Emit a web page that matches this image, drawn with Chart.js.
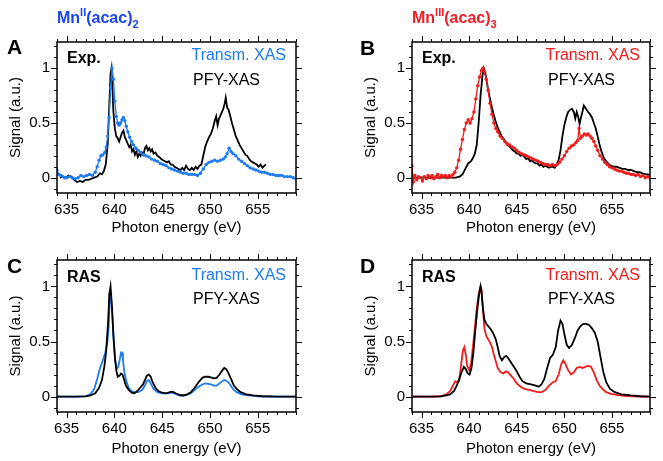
<!DOCTYPE html>
<html>
<head>
<meta charset="utf-8">
<script src="https://cdn.jsdelivr.net/npm/chart.js@4.4.1/dist/chart.umd.min.js"></script>
<style>
body{margin:0;background:#fff;width:663px;height:461px;overflow:hidden;position:relative;font-family:"Liberation Sans",Arial,sans-serif}
canvas{position:absolute}
.t{position:absolute;white-space:nowrap;line-height:1;font-size:16px;color:#000}
.b{font-weight:bold}
.ttl{font-weight:bold;font-size:16px}
.ttl span{position:relative;font-size:11px}
.up{top:-7px}
.dn{top:5px}
.let{font-weight:bold;font-size:21px}
</style>
</head>
<body>
<canvas id="panelA"></canvas>
<canvas id="panelB"></canvas>
<canvas id="panelC"></canvas>
<canvas id="panelD"></canvas>

<div class="t ttl" style="left:57px;top:10px;color:#1a44ee">Mn<span class="up">II</span>(acac)<span class="dn">2</span></div>
<div class="t ttl" style="left:412px;top:10px;color:#ee1c24">Mn<span class="up">III</span>(acac)<span class="dn">3</span></div>

<div class="t let" style="left:7px;top:36px">A</div>
<div class="t let" style="left:360px;top:37px">B</div>
<div class="t let" style="left:7px;top:255px">C</div>
<div class="t let" style="left:360px;top:255px">D</div>

<div class="t b" style="left:67px;top:50px">Exp.</div>
<div class="t" style="right:377px;top:47px;color:#1e7bf0">Transm. XAS</div>
<div class="t" style="left:193px;top:72px">PFY-XAS</div>

<div class="t b" style="left:422px;top:50px">Exp.</div>
<div class="t" style="right:23px;top:47px;color:#f01c1c">Transm. XAS</div>
<div class="t" style="left:548px;top:72px">PFY-XAS</div>

<div class="t b" style="left:67px;top:269px">RAS</div>
<div class="t" style="right:377px;top:267px;color:#1e7bf0">Transm. XAS</div>
<div class="t" style="left:193px;top:291px">PFY-XAS</div>

<div class="t b" style="left:422px;top:269px">RAS</div>
<div class="t" style="right:23px;top:267px;color:#f01c1c">Transm. XAS</div>
<div class="t" style="left:548px;top:291px">PFY-XAS</div>

<script>
const FONT = '"Liberation Sans", Arial, sans-serif'
const BLUE = '#1e7bf0'
const RED = '#f01c1c'

const xTicks = [635, 640, 645, 650, 655]
const yTicks = [0, 0.5, 1]

// A - Mn(II) experiment, transmission XAS (blue dots)
const expIITransmE = [
  634.0, 634.2, 634.4, 634.6, 634.8, 635.0, 635.3, 635.6, 635.9, 636.2,
  636.5, 636.8, 637.1, 637.4, 637.7, 638.0, 638.2, 638.4, 638.6, 638.8,
  639.0, 639.15, 639.3, 639.45, 639.6, 639.75, 639.9, 640.05, 640.2, 640.35,
  640.5, 640.65, 640.8, 640.95, 641.1, 641.25, 641.4, 641.6, 641.8, 642.0,
  642.25, 642.5, 642.75, 643.0, 643.3, 643.6, 643.9, 644.2, 644.5, 644.8,
  645.1, 645.4, 645.7, 646.0, 646.3, 646.6, 646.9, 647.2, 647.5, 647.8,
  648.1, 648.4, 648.7, 649.0, 649.3, 649.6, 649.9, 650.2, 650.5, 650.8,
  651.1, 651.4, 651.6, 651.8, 652.0, 652.2, 652.4, 652.7, 653.0, 653.3,
  653.6, 653.9, 654.2, 654.5, 654.8, 655.1, 655.4, 655.7, 656.0, 656.3,
  656.6, 656.9, 657.2, 657.5, 657.8, 658.1, 658.4, 658.7, 659.0
]
const expIITransmS = [
  0.07, 0.03, 0.02, 0.01, 0.0, 0.0, 0.01, 0.0, -0.01, 0.0,
  0.02, 0.01, 0.02, 0.03, 0.02, 0.05, 0.1, 0.16, 0.2, 0.21,
  0.23, 0.28, 0.38, 0.55, 0.82, 1.0, 0.9, 0.7, 0.56, 0.5,
  0.48, 0.5, 0.53, 0.55, 0.52, 0.47, 0.42, 0.37, 0.33, 0.3,
  0.27, 0.25, 0.23, 0.21, 0.2, 0.19, 0.17, 0.16, 0.15, 0.13,
  0.12, 0.11, 0.09, 0.08, 0.07, 0.06, 0.05, 0.04, 0.04, 0.03,
  0.03, 0.03, 0.02, 0.04, 0.08, 0.12, 0.14, 0.15, 0.16, 0.15,
  0.16, 0.17, 0.19, 0.22, 0.27, 0.24, 0.22, 0.2, 0.17, 0.15,
  0.13, 0.11, 0.09, 0.08, 0.07, 0.06, 0.05, 0.05, 0.04, 0.03,
  0.03, 0.02, 0.02, 0.02, 0.01, 0.01, 0.01, 0.0, -0.01
]

// A - Mn(II) experiment, PFY-XAS (black)
const expIIPfyE = [
  634.3, 634.6, 634.9, 635.2, 635.5, 635.8, 636.1, 636.4, 636.7, 637.0,
  637.3, 637.6, 637.9, 638.2, 638.5, 638.7, 638.9, 639.1, 639.3, 639.45,
  639.6, 639.7, 639.8, 639.9, 640.05, 640.2, 640.35, 640.5, 640.65, 640.8,
  640.95, 641.1, 641.25, 641.4, 641.55, 641.7, 641.85, 642.0, 642.15, 642.3,
  642.45, 642.6, 642.75, 642.9, 643.05, 643.2, 643.35, 643.5, 643.65, 643.8,
  643.95, 644.1, 644.3, 644.5, 644.7, 644.9, 645.1, 645.3, 645.5, 645.7,
  645.9, 646.1, 646.3, 646.5, 646.7, 646.9, 647.1, 647.3, 647.5, 647.7,
  647.9, 648.1, 648.3, 648.5, 648.7, 648.9, 649.1, 649.3, 649.5, 649.7,
  649.9, 650.1, 650.3, 650.5, 650.65, 650.8, 650.95, 651.1, 651.25, 651.4,
  651.55, 651.65, 651.8, 651.95, 652.1, 652.3, 652.5, 652.7, 652.9, 653.1,
  653.3, 653.5, 653.7, 653.9, 654.1, 654.3, 654.5, 654.7, 654.9, 655.1,
  655.3, 655.5, 655.7, 655.85
]
const expIIPfyS = [
  0.0, 0.01, 0.0, 0.02, 0.01, -0.02, -0.04, -0.03, -0.04, -0.02,
  -0.02, -0.01, 0.0, 0.01, 0.04, 0.03, 0.06, 0.12, 0.3, 0.62,
  0.95, 1.0, 0.82, 0.6, 0.45, 0.38, 0.36, 0.33, 0.37, 0.41,
  0.43, 0.37, 0.34, 0.31, 0.28, 0.3, 0.24, 0.26, 0.21, 0.24,
  0.19, 0.22, 0.2, 0.23, 0.21, 0.27, 0.29, 0.25, 0.27, 0.24,
  0.26, 0.22, 0.23, 0.2, 0.19, 0.17, 0.16, 0.15, 0.14, 0.15,
  0.12, 0.12, 0.1, 0.09, 0.08, 0.07, 0.09, 0.07, 0.11, 0.08,
  0.07, 0.09, 0.07, 0.1, 0.08, 0.11, 0.12, 0.2, 0.28, 0.33,
  0.37, 0.4, 0.45, 0.52, 0.56, 0.48, 0.54, 0.57, 0.6, 0.63,
  0.68, 0.73, 0.64, 0.62, 0.57, 0.5, 0.44, 0.38, 0.34, 0.3,
  0.27, 0.24, 0.21, 0.2, 0.17, 0.15, 0.14, 0.13, 0.12, 0.1,
  0.12, 0.09, 0.11, 0.12
]

// B - Mn(III) experiment, transmission XAS (red dots)
const expIIITransmE = [
  634.0, 634.15, 634.3, 634.5, 634.7, 634.9, 635.1, 635.3, 635.5, 635.7,
  635.9, 636.1, 636.3, 636.5, 636.7, 636.9, 637.1, 637.3, 637.5, 637.7,
  637.9, 638.1, 638.3, 638.5, 638.7, 638.9, 639.1, 639.3, 639.5, 639.7,
  639.9, 640.1, 640.3, 640.5, 640.7, 640.9, 641.1, 641.3, 641.45, 641.6,
  641.8, 642.0, 642.2, 642.4, 642.6, 642.8, 643.0, 643.25, 643.5, 643.75,
  644.0, 644.25, 644.5, 644.75, 645.0, 645.25, 645.5, 645.75, 646.0, 646.25,
  646.5, 646.75, 647.0, 647.25, 647.5, 647.75, 648.0, 648.25, 648.5, 648.75,
  649.0, 649.25, 649.5, 649.75, 650.0, 650.25, 650.5, 650.75, 651.0, 651.2,
  651.4, 651.55, 651.7, 651.9, 652.1, 652.3, 652.5, 652.7, 652.9, 653.1,
  653.3, 653.5, 653.75, 654.0, 654.25, 654.5, 654.75, 655.0, 655.25, 655.5,
  655.75, 656.0, 656.25, 656.5, 656.75, 657.0, 657.25, 657.5, 657.75, 658.0,
  658.25, 658.5, 658.75, 659.0
]
const expIIITransmS = [
  0.11, -0.04, 0.02, -0.02, 0.01, 0.0, -0.03, 0.01, -0.01, 0.02,
  0.0, 0.02, -0.01, 0.01, 0.03, 0.0, 0.02, 0.01, 0.02, 0.0,
  0.02, 0.01, 0.03, 0.05, 0.09, 0.16, 0.26, 0.35, 0.44, 0.5,
  0.53, 0.5, 0.54, 0.6, 0.72, 0.84, 0.92, 0.98, 1.0, 0.97,
  0.9, 0.8, 0.68, 0.58, 0.5, 0.45, 0.42, 0.38, 0.36, 0.33,
  0.31, 0.3, 0.28, 0.27, 0.25, 0.23, 0.22, 0.21, 0.2, 0.19,
  0.18, 0.17, 0.16, 0.15, 0.14, 0.13, 0.12, 0.12, 0.11, 0.12,
  0.11, 0.12, 0.14, 0.17, 0.2, 0.24, 0.27, 0.29, 0.3, 0.32,
  0.34, 0.45, 0.36, 0.38, 0.4, 0.39, 0.4, 0.38, 0.36, 0.33,
  0.29, 0.25, 0.2, 0.17, 0.14, 0.12, 0.1, 0.09, 0.08, 0.07,
  0.06, 0.06, 0.05, 0.04, 0.04, 0.03, 0.03, 0.02, 0.03, 0.01,
  0.02, 0.0, 0.01, 0.0
]

// B - Mn(III) experiment, PFY-XAS (black)
const expIIIPfyE = [
  634.0, 635.0, 636.0, 637.0, 638.0, 638.6, 639.0, 639.3, 639.6, 639.9,
  640.2, 640.4, 640.6, 640.8, 641.0, 641.2, 641.4, 641.55, 641.7, 641.85,
  642.0, 642.2, 642.4, 642.6, 642.8, 643.0, 643.2, 643.4, 643.6, 643.8,
  644.0, 644.2, 644.4, 644.6, 644.8, 645.0, 645.2, 645.4, 645.6, 645.8,
  646.0, 646.2, 646.4, 646.6, 646.8, 647.0, 647.2, 647.4, 647.6, 647.8,
  648.0, 648.2, 648.4, 648.6, 648.8, 649.0, 649.2, 649.4, 649.6, 649.8,
  650.0, 650.2, 650.4, 650.6, 650.8, 651.0, 651.15, 651.3, 651.45, 651.6,
  651.75, 651.9, 652.05, 652.2, 652.35, 652.5, 652.7, 652.9, 653.1, 653.3,
  653.5, 653.7, 653.9, 654.1, 654.3, 654.5, 654.7, 654.9, 655.2, 655.5,
  655.8, 656.1, 656.4, 656.7, 657.0, 657.3, 657.6, 657.9, 658.2, 658.5,
  658.8, 659.0
]
const expIIIPfyS = [
  0.0, 0.0, 0.0, 0.0, 0.0, 0.0, 0.01, 0.03, 0.08, 0.13,
  0.15, 0.18, 0.22, 0.3, 0.5, 0.75, 0.93, 1.0, 0.96, 0.88,
  0.8, 0.72, 0.64, 0.57, 0.51, 0.46, 0.42, 0.38, 0.36, 0.33,
  0.3, 0.29, 0.27, 0.25, 0.24, 0.22, 0.22, 0.2, 0.21, 0.19,
  0.17, 0.18, 0.15, 0.16, 0.14, 0.13, 0.13, 0.11, 0.12, 0.1,
  0.11, 0.1, 0.09, 0.1, 0.1, 0.09, 0.12, 0.16, 0.25, 0.38,
  0.48, 0.55, 0.6, 0.62, 0.63, 0.6, 0.54, 0.6, 0.56, 0.49,
  0.55, 0.6, 0.66, 0.64, 0.62, 0.6, 0.58, 0.55, 0.5, 0.45,
  0.38, 0.3, 0.24, 0.19, 0.16, 0.14, 0.12, 0.11, 0.1, 0.1,
  0.09, 0.08, 0.08, 0.07, 0.07, 0.06, 0.05, 0.05, 0.04, 0.03,
  0.03, 0.02
]

// C - Mn(II) RAS calculation
const rasIITransmE = [
  634.0, 636.0, 637.0, 637.5, 637.9, 638.2, 638.5, 638.8, 639.05, 639.25,
  639.4, 639.52, 639.65, 639.8, 639.95, 640.1, 640.25, 640.4, 640.55, 640.7,
  640.8, 640.9, 641.05, 641.25, 641.5, 641.8, 642.1, 642.5, 642.9, 643.2,
  643.4, 643.6, 643.8, 644.1, 644.5, 645.0, 645.5, 646.0, 646.4, 646.8,
  647.2, 647.6, 648.0, 648.4, 648.8, 649.2, 649.5, 649.8, 650.1, 650.4,
  650.7, 651.0, 651.3, 651.5, 651.8, 652.1, 652.4, 652.8, 653.3, 654.0,
  655.0, 657.0, 659.0
]
const rasIITransmS = [
  0.0, 0.0, 0.005, 0.02, 0.07, 0.16, 0.26, 0.33, 0.4, 0.48,
  0.62, 0.92, 0.9, 0.72, 0.5, 0.32, 0.25, 0.27, 0.33, 0.4,
  0.4, 0.33, 0.22, 0.14, 0.08, 0.05, 0.04, 0.04, 0.06, 0.1,
  0.14, 0.15, 0.12, 0.07, 0.04, 0.03, 0.03, 0.035, 0.025, 0.01,
  0.01, 0.015, 0.03, 0.06, 0.09, 0.11, 0.12, 0.115, 0.11, 0.1,
  0.1, 0.12, 0.14, 0.15, 0.14, 0.11, 0.07, 0.04, 0.02, 0.01,
  0.003, 0.0, 0.0
]
const rasIIPfyE = [
  634.0, 636.0, 637.0, 637.5, 638.0, 638.4, 638.7, 638.95, 639.15, 639.35,
  639.47, 639.6, 639.75, 639.9, 640.05, 640.2, 640.35, 640.55, 640.7, 640.85,
  641.0, 641.2, 641.5, 641.8, 642.1, 642.4, 642.7, 643.0, 643.2, 643.4,
  643.6, 643.8, 644.0, 644.3, 644.6, 645.0, 645.4, 645.8, 646.1, 646.4,
  646.8, 647.2, 647.6, 648.0, 648.4, 648.8, 649.2, 649.5, 649.8, 650.1,
  650.4, 650.7, 651.0, 651.3, 651.5, 651.7, 651.9, 652.2, 652.5, 652.8,
  653.2, 653.8, 654.5, 655.5, 657.0, 659.0
]
const rasIIPfyS = [
  0.0, 0.0, 0.002, 0.01, 0.03, 0.08, 0.15, 0.27, 0.42, 0.68,
  0.93, 1.0, 0.82, 0.55, 0.36, 0.24, 0.18, 0.19, 0.21, 0.2,
  0.16, 0.1, 0.06, 0.035, 0.03, 0.05, 0.08, 0.11, 0.15, 0.19,
  0.2, 0.18, 0.13, 0.08, 0.05, 0.035, 0.03, 0.04, 0.045, 0.03,
  0.015, 0.01, 0.02, 0.04, 0.08, 0.13, 0.17, 0.18, 0.18, 0.175,
  0.165, 0.17, 0.2, 0.24, 0.26, 0.25, 0.22, 0.16, 0.1, 0.07,
  0.04, 0.02, 0.01, 0.003, 0.0, 0.0
]

// D - Mn(III) RAS calculation
const rasIIITransmE = [
  634.0, 636.0, 637.0, 637.6, 638.0, 638.3, 638.55, 638.75, 638.95, 639.15,
  639.35, 639.5, 639.65, 639.8, 640.0, 640.2, 640.4, 640.6, 640.8, 641.0,
  641.2, 641.3, 641.45, 641.6, 641.8, 642.0, 642.2, 642.4, 642.6, 642.8,
  643.0, 643.3, 643.6, 643.85, 644.1, 644.4, 644.7, 645.0, 645.4, 645.8,
  646.3, 646.8, 647.2, 647.6, 648.0, 648.4, 648.8, 649.1, 649.4, 649.7,
  649.9, 650.1, 650.4, 650.7, 651.0, 651.3, 651.6, 651.9, 652.2, 652.5,
  652.8, 653.1, 653.4, 653.7, 654.0, 654.4, 654.9, 655.5, 656.5, 658.0,
  659.0
]
const rasIIITransmS = [
  0.0, 0.0, 0.003, 0.02, 0.05, 0.1, 0.14, 0.13, 0.14, 0.28,
  0.42, 0.45, 0.38, 0.28, 0.24, 0.3, 0.45, 0.62, 0.8, 0.93,
  1.0, 0.97, 0.8, 0.62, 0.55, 0.52, 0.49, 0.45, 0.38, 0.32,
  0.26, 0.22, 0.21, 0.23, 0.22, 0.19, 0.16, 0.12, 0.09, 0.07,
  0.06, 0.05, 0.04, 0.04, 0.06, 0.1, 0.13, 0.14, 0.2, 0.3,
  0.33, 0.3, 0.24, 0.2, 0.22, 0.26, 0.27, 0.26, 0.27, 0.28,
  0.27, 0.22, 0.15, 0.1, 0.07, 0.04, 0.025, 0.015, 0.005, 0.0,
  0.0
]
const rasIIIPfyE = [
  634.0, 636.0, 637.0, 637.6, 638.0, 638.4, 638.7, 639.0, 639.2, 639.45,
  639.65, 639.85, 640.05, 640.25, 640.45, 640.65, 640.85, 641.05, 641.2, 641.3,
  641.45, 641.6, 641.8, 642.0, 642.2, 642.5, 642.8, 643.0, 643.2, 643.45,
  643.7, 643.9, 644.1, 644.4, 644.7, 645.0, 645.3, 645.6, 646.0, 646.5,
  647.0, 647.3, 647.6, 647.9, 648.2, 648.5, 648.8, 649.1, 649.35, 649.6,
  649.8, 650.0, 650.25, 650.5, 650.8, 651.1, 651.4, 651.7, 652.0, 652.3,
  652.6, 652.9, 653.2, 653.5, 653.8, 654.1, 654.4, 654.8, 655.3, 656.0,
  657.0, 658.0, 659.0
]
const rasIIIPfyS = [
  0.0, 0.0, 0.002, 0.01, 0.02, 0.05, 0.1, 0.17, 0.22, 0.27,
  0.25, 0.21, 0.2, 0.26, 0.4, 0.6, 0.78, 0.93, 1.0, 0.95,
  0.8, 0.7, 0.66, 0.64, 0.62, 0.58, 0.52, 0.45, 0.37, 0.33,
  0.36, 0.37, 0.35, 0.31, 0.27, 0.23, 0.18, 0.14, 0.12, 0.11,
  0.1, 0.09, 0.11, 0.16, 0.26, 0.35, 0.38, 0.45, 0.6, 0.69,
  0.66, 0.57, 0.47, 0.44, 0.47, 0.53, 0.6, 0.64, 0.66, 0.66,
  0.65, 0.62, 0.58, 0.5, 0.36, 0.22, 0.13, 0.07, 0.04, 0.02,
  0.01, 0.003, 0.0
]

/* box with outward ticks on all four sides */
const frameTicks = {
  id: 'frameTicks',
  afterDatasetsDraw(chart) {
    const {ctx, chartArea: a, scales: {x, y}} = chart
    ctx.save()
    ctx.strokeStyle = '#000'
    ctx.lineWidth = 1
    ctx.beginPath()
    for (let e = 634; e <= 659; e++) {
      const px = Math.round(x.getPixelForValue(e)) + 0.5
      const len = e % 5 === 0 ? 6 : 3
      ctx.moveTo(px, a.bottom); ctx.lineTo(px, a.bottom + len)
      ctx.moveTo(px, a.top); ctx.lineTo(px, a.top - len)
    }
    for (let i = -1; i <= 12; i++) {
      const py = Math.round(y.getPixelForValue(i / 10)) + 0.5
      const len = i % 5 === 0 ? 6 : 3
      ctx.moveTo(a.left, py); ctx.lineTo(a.left - len, py)
      ctx.moveTo(a.right, py); ctx.lineTo(a.right + len, py)
    }
    ctx.stroke()
    ctx.lineWidth = 1.5
    ctx.strokeRect(a.left, a.top, a.right - a.left, a.bottom - a.top)
    ctx.restore()
  }
}

function makeSet(e, s, color, dots) {
  return {
    data: e.map((v, i) => ({x: v, y: s[i]})),
    borderColor: color,
    backgroundColor: color,
    borderWidth: dots ? 1.3 : 1.8,
    pointRadius: dots ? 1.7 : 0,
    pointBorderWidth: 0,
    tension: 0
  }
}

function drawPanel(id, pos, area, datasets) {
  const canvas = document.getElementById(id)
  canvas.width = pos.w
  canvas.height = pos.h
  canvas.style.left = pos.x + 'px'
  canvas.style.top = pos.y + 'px'
  return new Chart(canvas, {
    type: 'line',
    data: {datasets: datasets},
    options: {
      responsive: false,
      animation: false,
      devicePixelRatio: 1,
      layout: {padding: {left: 0, top: area.t - pos.y, right: pos.x + pos.w - area.r, bottom: 0}},
      plugins: {legend: {display: false}, tooltip: {enabled: false}},
      scales: {
        x: {
          type: 'linear', min: 634, max: 659,
          grid: {display: false, drawTicks: false},
          border: {display: false},
          afterBuildTicks: sc => { sc.ticks = xTicks.map(v => ({value: v})) },
          afterFit: sc => { sc.height = pos.y + pos.h - area.b },
          ticks: {padding: 8, color: '#000', maxRotation: 0, autoSkip: false, font: {size: 15, family: FONT}},
          title: {display: true, text: 'Photon energy (eV)', color: '#000', padding: {top: 0, bottom: 3}, font: {size: 15, family: FONT}}
        },
        y: {
          type: 'linear', min: -0.14, max: 1.24,
          grid: {display: false, drawTicks: false},
          border: {display: false},
          afterBuildTicks: sc => { sc.ticks = yTicks.map(v => ({value: v})) },
          afterFit: sc => { sc.width = area.l - pos.x },
          ticks: {padding: 7, color: '#000', font: {size: 15, family: FONT}, callback: v => String(v)},
          title: {display: true, text: 'Signal (a.u.)', color: '#000', padding: {top: 7, bottom: 0}, font: {size: 15, family: FONT}}
        }
      }
    },
    plugins: [frameTicks]
  })
}

drawPanel('panelA', {x: 0, y: 0, w: 330, h: 240}, {l: 57, t: 42, r: 296, b: 193}, [
  makeSet(expIITransmE, expIITransmS, BLUE, true),
  makeSet(expIIPfyE, expIIPfyS, '#000', false)
])
drawPanel('panelB', {x: 355, y: 0, w: 308, h: 240}, {l: 412, t: 42, r: 650, b: 193}, [
  makeSet(expIIITransmE, expIIITransmS, RED, true),
  makeSet(expIIIPfyE, expIIIPfyS, '#000', false)
])
drawPanel('panelC', {x: 0, y: 231, w: 330, h: 230}, {l: 57, t: 260, r: 296, b: 412}, [
  makeSet(rasIIPfyE, rasIIPfyS, '#000', false),
  makeSet(rasIITransmE, rasIITransmS, BLUE, false)
])
drawPanel('panelD', {x: 355, y: 231, w: 308, h: 230}, {l: 412, t: 260, r: 650, b: 412}, [
  makeSet(rasIIIPfyE, rasIIIPfyS, '#000', false),
  makeSet(rasIIITransmE, rasIIITransmS, RED, false)
])
</script>
</body>
</html>
